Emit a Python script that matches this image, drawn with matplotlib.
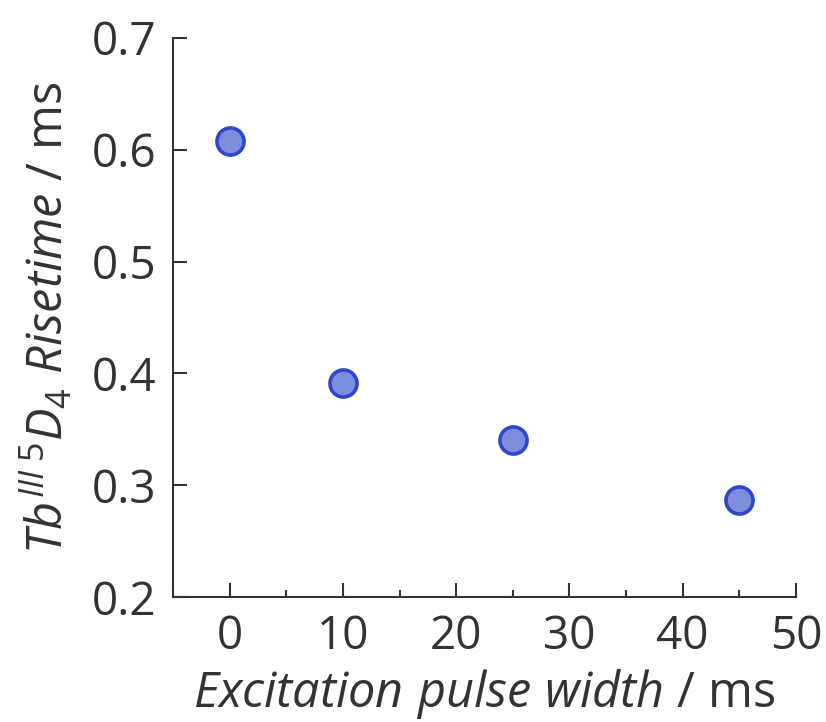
import matplotlib
matplotlib.use('Agg')
import matplotlib.pyplot as plt
from matplotlib.ticker import MultipleLocator

# Data
pulse_width = [0, 10, 25, 45]
risetime = [0.608, 0.391, 0.340, 0.287]

plt.rcParams['font.family'] = ['Open Sans', 'DejaVu Sans']
plt.rcParams['mathtext.fontset'] = 'custom'
plt.rcParams['mathtext.rm'] = 'Open Sans'
plt.rcParams['mathtext.it'] = 'Open Sans:italic'

ink = '#333333'

fig = plt.figure(figsize=(8.26, 7.22), dpi=100)
ax = fig.add_axes([0.2094, 0.1731, 0.7543, 0.7743])

ax.plot(pulse_width, risetime, linestyle='none', marker='o', markersize=19.5,
        markerfacecolor='#7b8ddb', markeredgecolor='#2d48c8', markeredgewidth=2.6)

ax.set_xlim(-5, 50)
ax.set_ylim(0.2, 0.7)
ax.xaxis.set_major_locator(MultipleLocator(10))
ax.xaxis.set_minor_locator(MultipleLocator(5))
ax.yaxis.set_major_locator(MultipleLocator(0.1))

for side in ['top', 'right']:
    ax.spines[side].set_visible(False)
for side in ['left', 'bottom']:
    ax.spines[side].set_linewidth(1.5)
    ax.spines[side].set_color(ink)

ax.tick_params(which='major', direction='in', length=10, width=1.5, color=ink,
               labelsize=33, labelcolor=ink, pad=12)
ax.tick_params(which='minor', direction='in', length=5, width=1.5, color=ink)

ax.set_xlabel(r'$\mathit{Excitation\ pulse\ width}$ / ms', fontsize=35, color=ink, labelpad=5)
ax.set_ylabel(r'$\mathit{Tb}^{\mathit{III}}\,{}^{5}\mathit{D}_{4}\ \mathit{Risetime}$ / ms',
              fontsize=35, color=ink, labelpad=12)

fig.savefig('out.png', dpi=100)
